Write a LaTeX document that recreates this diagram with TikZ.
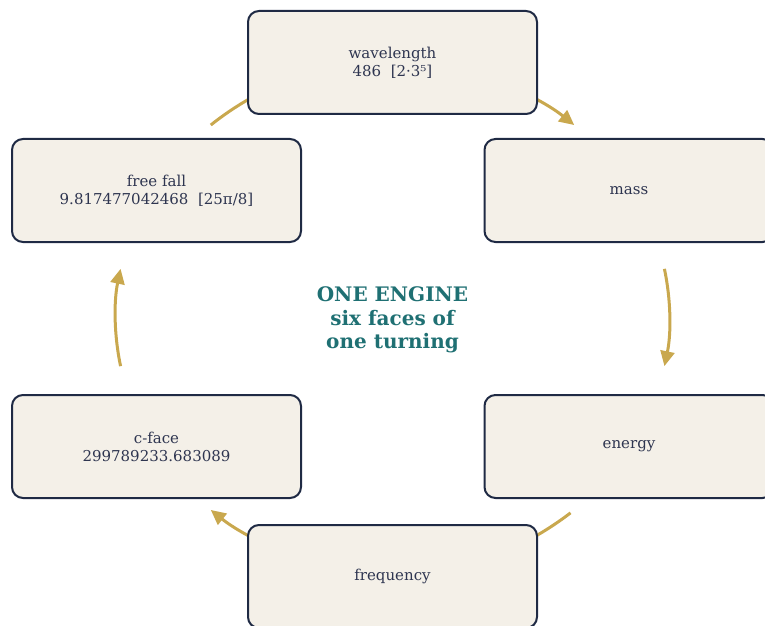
\documentclass[tikz,border=0pt]{standalone}
\usepackage{fontspec}
\setmainfont{DejaVu Serif}
\usepackage{xcolor}
\usetikzlibrary{arrows.meta, calc}
\definecolor{faceFill}{HTML}{F4F0E8}
\definecolor{faceEdge}{HTML}{1F2A44}
\definecolor{faceText}{HTML}{2E3550}
\definecolor{ringGold}{HTML}{C9A84E}
\definecolor{hubTeal}{HTML}{1F7073}
\tikzset{
  face/.style={rectangle, draw=faceEdge, line width=2pt, rounded corners=11pt,
               fill=faceFill, minimum width=289pt, minimum height=103pt,
               text=faceText, align=center, font=\fontsize{15}{18}\selectfont},
  flow/.style={draw=ringGold, line width=3pt, -{Triangle[length=15pt,width=14pt]}}
}

\begin{document}
\begin{tikzpicture}[x=1pt, y=1pt]
    \useasboundingbox (0,0) rectangle (765,625);
    \coordinate (ring) at (392.5,307.5);

    % ring of arcs, drawn first so the faces cover their ends
    \coordinate (ffout)  at ($(ring)+(131:277pt and 255pt)$);
    \coordinate (wlout)  at ($(ring)+(70:277pt and 255pt)$);
    \coordinate (msout)  at ($(ring)+(11:277pt and 255pt)$);
    \coordinate (enout)  at ($(ring)+(-50:277pt and 255pt)$);
    \coordinate (frout)  at ($(ring)+(-110:277pt and 255pt)$);
    \coordinate (cfout)  at ($(ring)+(191:277pt and 255pt)$);
    \draw[flow] (ffout) arc[start angle=131, end angle=110, x radius=277pt, y radius=255pt];
    \draw[flow] (wlout) arc[start angle=70, end angle=49, x radius=277pt, y radius=255pt];
    \draw[flow] (msout) arc[start angle=11, end angle=-11, x radius=277pt, y radius=255pt];
    \draw[flow] (enout) arc[start angle=-50, end angle=-70, x radius=277pt, y radius=255pt];
    \draw[flow] (frout) arc[start angle=-110, end angle=-131, x radius=277pt, y radius=255pt];
    \draw[flow] (cfout) arc[start angle=191, end angle=169, x radius=277pt, y radius=255pt];

    \node[face] (wavelength) at (392.5,562.5) {wavelength\\486\ \ [2·3⁵]};
    \node[face] (mass)       at (629,434.5)   {mass};
    \node[face] (energy)     at (629,178.5)   {energy};
    \node[face] (frequency)  at (392.5,48.5)  {frequency};
    \node[face] (cface)      at (156.5,178.5) {c-face\\299789233.683089};
    \node[face] (freefall)   at (156.5,434.5) {free fall\\9.817477042468\ \ [25π/8]};

    \node[align=center, text=hubTeal, font=\fontsize{20}{23.5}\selectfont\bfseries] (hub) at (392.5,305)
        {ONE ENGINE\\six faces of\\one turning};
\end{tikzpicture}
\end{document}
